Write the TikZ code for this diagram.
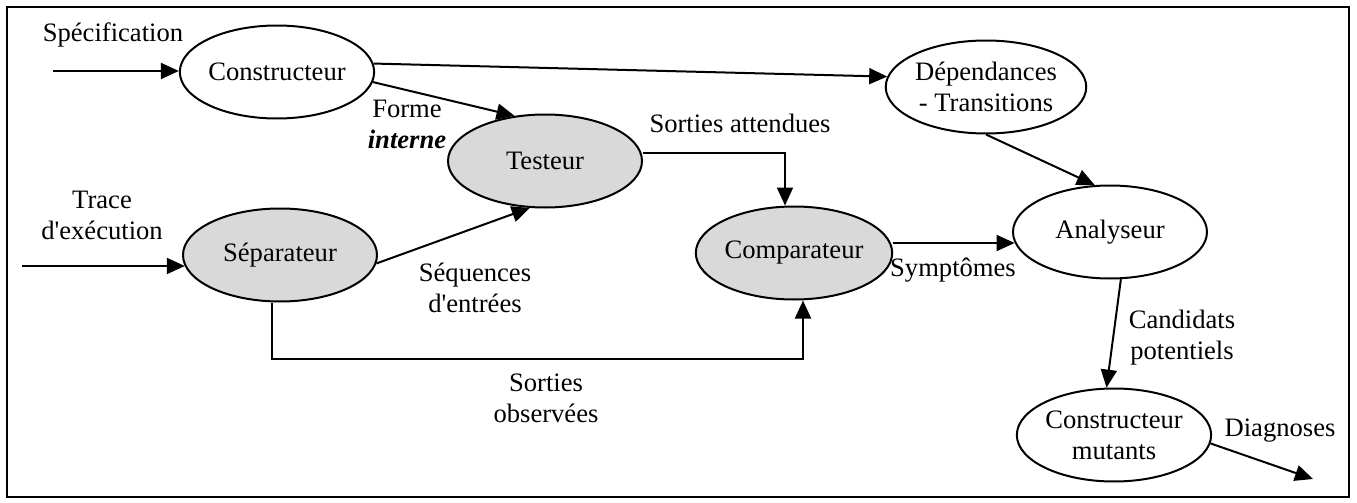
\documentclass[tikz,border=0pt]{standalone}
\usepackage{fontspec}
\setmainfont{Liberation Serif}
\usetikzlibrary{arrows.meta,shapes.geometric,calc}
\begin{document}
\begin{tikzpicture}[x=0.5pt,y=-0.5pt,
  proc/.style={ellipse,draw=black,line width=1pt,minimum width=97pt,minimum height=46.5pt,inner sep=0pt,align=center,font=\fontsize{13.3pt}{15.5pt}\selectfont},
  shaded/.style={proc,fill=gray!30},
  plain/.style={proc,fill=white},
  lbl/.style={align=center,inner sep=0pt,font=\fontsize{13.3pt}{15.5pt}\selectfont},
  arr/.style={line width=1pt,-{Triangle[length=9pt,width=8pt]}}]
\useasboundingbox (0,0) rectangle (1357,503);
\draw[line width=1pt] (7,7) rectangle (1349,497);
% processes
\node[plain]  (cons) at (277,72)   {Constructeur};
\node[shaded] (test) at (545,161)  {Testeur};
\node[shaded] (sep)  at (280,255)  {Séparateur};
\node[shaded] (comp) at (794,253)  {Comparateur};
\node[plain]  (dep)  at (986,87)   {Dépendances\\- Transitions};
\node[plain]  (ana)  at (1110,232) {Analyseur};
\node[plain]  (mut)  at (1114,435) {Constructeur\\mutants};
% labels
\node[lbl] (lspec)  at (113,35)   {Spécification};
\node[lbl] (ltrace) at (102,215)  {Trace\\d\textquotesingle exécution};
\node[lbl] (lforme) at (407,124)  {Forme\\\textbf{\textit{interne}}};
\node[lbl] (latt)   at (740,123)  {Sorties attendues};
\node[lbl] (lseq)   at (475,288)  {Séquences\\d\textquotesingle entrées};
\node[lbl] (lobs)   at (546,398)  {Sorties\\observées};
\node[lbl] (lsym)   at (953,270)  {Symptômes};
\node[lbl] (lcand)  at (1182,338) {Candidats\\potentiels};
\node[lbl] (ldiag)  at (1280,431) {Diagnoses};
% free ends
\coordinate (in1) at (53,71);
\coordinate (in2) at (22,266);
\coordinate (out1) at (1313,479);
% connectors
\draw[arr] (in1) -- (in1 -| cons.west);
\draw[arr] (in2) -- ($(in2 -| sep.west)+(2.8,0)$);
\draw[arr] (cons.-6) -- (test.124);
\draw[arr] (cons.5) -- (dep.174);
\draw[arr] (sep.-5) -- (test.252);
\draw[arr] ([yshift=4pt]test.east) -| ([xshift=-4.5pt]comp.north);
\draw[arr] ([xshift=-4pt]sep.south) -- ++(0,56) -| ([xshift=4.5pt]comp.south);
\draw[arr] ([yshift=5pt]comp.east) -- ($([yshift=5pt]comp.east -| ana.west)+(2.6,0)$);
\draw[arr] (dep.south) -- (ana.108);
\draw[arr] (ana.-77) -- (mut.99);
\draw[arr] (mut.-5) -- (out1);
\end{tikzpicture}
\end{document}
